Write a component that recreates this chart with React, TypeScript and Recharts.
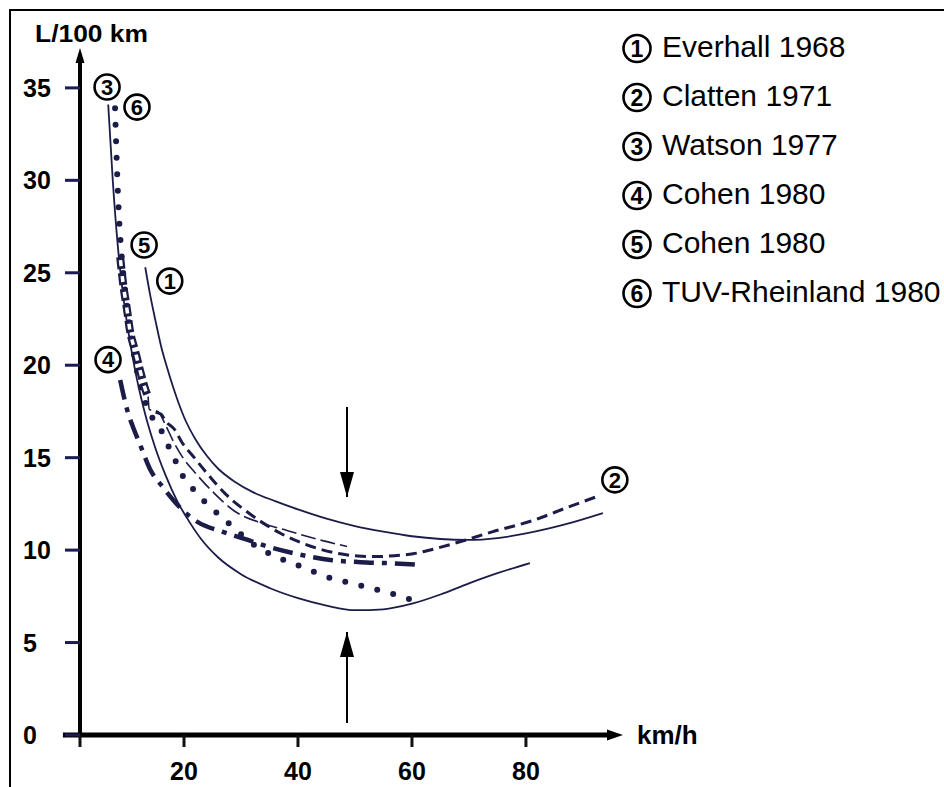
import React from 'react';
import { LineChart, Line, XAxis, YAxis, ReferenceDot, ReferenceLine } from 'recharts';

const FONT = '"Liberation Sans", Arial, Helvetica, sans-serif';
const INK = '#1c1c48';

// ---- data (km/h, L/100 km) ----
const EVERHALL = [
  [13.2, 25.3], [14, 23.9], [15, 22.4], [16, 21.0], [17, 19.9], [18, 18.9], [19, 18.0], [20, 17.2],
  [22, 16.0], [24, 15.1], [26, 14.4], [28.9, 13.7], [32, 13.15], [36, 12.65], [40, 12.2], [45, 11.7],
  [50, 11.3], [55, 11.0], [60, 10.75], [65, 10.6], [70, 10.55], [75, 10.65], [80, 10.9], [87, 11.4],
  [93.5, 12.0],
];
const CLATTEN = [
  [15.0, 17.45], [16.0, 17.35], [16.7, 17.0], [18.4, 16.5], [19.6, 15.85], [21.8, 15.0], [24.6, 13.95],
  [27.4, 13.0], [30.5, 12.2], [33.7, 11.5], [37, 10.9], [39.8, 10.5], [43.9, 10.05], [47.4, 9.8],
  [50.5, 9.68], [53.5, 9.65], [57, 9.7], [60.2, 9.8], [63.7, 10.05], [68.4, 10.45], [74.2, 11.0],
  [81.2, 11.6], [87.2, 12.3], [92.5, 12.9],
];
const WATSON = [
  [6.7, 34.1], [7.5, 30.0], [8.4, 26.4], [9.4, 23.6], [10.5, 21.3], [11.5, 19.6], [12.5, 18.2],
  [13.5, 17.0], [15, 15.5], [16.7, 14.1], [18.9, 12.6], [21, 11.5], [23, 10.6], [26, 9.6], [30, 8.7],
  [35, 7.95], [40, 7.4], [45, 7.0], [50, 6.75], [55, 6.8], [60, 7.1], [65, 7.6], [70, 8.2],
  [75, 8.75], [80.7, 9.3],
];
const COHEN4 = [
  [8.8, 19.2], [10.2, 17.4], [11.0, 16.7], [12.3, 15.7], [14.0, 14.4], [16.3, 13.4], [19.3, 12.3],
  [22.5, 11.5], [26.7, 11.0], [31.2, 10.55], [34.6, 10.2], [40.4, 9.75], [46, 9.45], [51, 9.35],
  [55.3, 9.3], [61.8, 9.2],
];
const COHEN5_TOP = [
  [8.8, 25.85], [9.3, 24.45], [10.0, 23.0], [10.5, 21.9], [11.4, 20.8], [12.3, 19.7], [13.2, 18.7],
  [13.7, 18.3],
];
const COHEN5_TAIL = [
  [13.7, 18.3], [13.9, 17.6], [15.4, 17.5], [16.7, 16.8], [18.1, 15.9], [19.8, 15.0], [21.9, 14.2],
  [24.9, 13.2], [28.9, 12.1], [33.7, 11.45], [38.2, 11.05], [40.4, 10.85], [44.5, 10.5], [48.6, 10.2],
];
const TUV = [
  [7.9, 33.9], [8.2, 31.0], [8.6, 28.0], [9.1, 25.8], [10.0, 23.2], [11.2, 20.6], [12.6, 18.6],
  [14.0, 17.4], [15.8, 16.6], [17.0, 15.8], [18.4, 14.9], [19.8, 14.0], [21.6, 13.3], [24.0, 12.5],
  [26.0, 11.95], [28.4, 11.3], [32, 10.35], [36.5, 9.6], [39.8, 9.2], [43.0, 8.8], [46.1, 8.45],
  [49.5, 8.2], [52.6, 7.95], [55.8, 7.7], [59.5, 7.35],
];
const ARROW_DOWN = [[48.6, 17.74], [48.6, 12.87]];
const ARROW_UP = [[48.6, 0.65], [48.6, 5.57]];

const CURVE_LABELS: [string, number, number][] = [
  ['3', 6.5, 35.05], ['6', 11.75, 33.96], ['5', 13.0, 26.5], ['1', 17.5, 24.55], ['4', 6.67, 20.3], ['2', 95.6, 13.8],
];
const LEGEND: [string, string][] = [
  ['1', 'Everhall 1968'], ['2', 'Clatten 1971'], ['3', 'Watson 1977'],
  ['4', 'Cohen 1980'], ['5', 'Cohen 1980'], ['6', 'TUV-Rheinland 1980'],
];

const X_TICKS = [1.75, 20, 40, 60, 80];
const Y_TICKS = [0, 5, 10, 15, 20, 25, 30, 35];
const X_DOMAIN: [number, number] = [1.75, 95.1];
const Y_DOMAIN: [number, number] = [0, 36.4];

const toPts = (a: number[][]) => a.map(([x, y]) => ({ x, y }));

const XTick = (p: any) => {
  if (p.payload.value === X_TICKS[0]) return <g />;
  return (
    <text x={p.x} y={p.y} dy={33} textAnchor="middle" fontSize={25} fontWeight="bold" fontFamily={FONT} fill="#000">
      {p.payload.value}
    </text>
  );
};
const YTick = (p: any) => (
  <text x={p.x - 30} y={p.y} dy={9} textAnchor="start" fontSize={25} fontWeight="bold" fontFamily={FONT} fill="#000">
    {p.payload.value}
  </text>
);

const circled = (n: string) => (p: any) => (
  <g>
    <circle cx={p.cx} cy={p.cy} r={12.5} fill="none" stroke="#000" strokeWidth={2.6} />
    <text x={p.cx} y={p.cy + 7.8} textAnchor="middle" fontSize={22} fontWeight="bold" fontFamily={FONT} fill="#000">{n}</text>
  </g>
);

const arrowHead = (dir: number) => (p: any) => {
  if (p.index !== 1) return <g key={`a${p.index}`} />;
  const { cx, cy } = p;
  const base = cy - dir * 25;
  return <polygon key={`h${p.index}`} points={`${cx - 7},${base} ${cx + 7},${base} ${cx},${cy}`} fill="#000" />;
};

export default function App() {
  return (
    <div style={{ position: 'absolute', left: 0, top: 0, width: 944, height: 787, background: '#fff', fontFamily: FONT }}>
      <div style={{ position: 'absolute', left: 9, top: 9, width: 935, height: 778, borderTop: '2px solid #000', borderLeft: '2px solid #000', boxSizing: 'border-box' }} />
      <div style={{ position: 'absolute', left: 0, top: 0 }}>
        <LineChart width={944} height={787} margin={{ top: 62, right: 332, bottom: 0, left: 20 }}>
          <XAxis type="number" dataKey="x" domain={X_DOMAIN} ticks={X_TICKS} interval={0} height={52}
            tickSize={12} tickMargin={0} axisLine={{ stroke: '#000', strokeWidth: 5 }}
            tickLine={{ stroke: '#111', strokeWidth: 3 }} tick={(p: any) => <XTick {...p} />} />
          <YAxis type="number" dataKey="y" domain={Y_DOMAIN} ticks={Y_TICKS} interval={0} width={60}
            tickSize={15} tickMargin={12} axisLine={{ stroke: '#000', strokeWidth: 4 }}
            tickLine={{ stroke: '#1b1b55', strokeWidth: 3 }} tick={(p: any) => <YTick {...p} />} />
          <ReferenceLine segment={[{ x: -1.25, y: 0 }, { x: 1.75, y: 0 }]} ifOverflow="visible" stroke="#000" strokeWidth={5} />

          <Line data={toPts(EVERHALL)} dataKey="y" type="monotone" stroke={INK} strokeWidth={1.8} dot={false} isAnimationActive={false} />
          <Line data={toPts(WATSON)} dataKey="y" type="monotone" stroke={INK} strokeWidth={1.8} dot={false} isAnimationActive={false} />
          <Line data={toPts(COHEN5_TAIL)} dataKey="y" type="monotone" stroke={INK} strokeWidth={1.6} strokeDasharray="15 5" dot={false} isAnimationActive={false} />
          <Line data={toPts(CLATTEN)} dataKey="y" type="monotone" stroke={INK} strokeWidth={3} strokeDasharray="11 6" dot={false} isAnimationActive={false} />
          <Line data={toPts(COHEN4)} dataKey="y" type="monotone" stroke={INK} strokeWidth={4.5} strokeDasharray="20 8 5 8" dot={false} isAnimationActive={false} />
          <Line data={toPts(TUV)} dataKey="y" type="monotone" stroke={INK} strokeWidth={6} strokeDasharray="0 16.5" strokeLinecap="round" dot={false} isAnimationActive={false} />
          <Line data={toPts(COHEN5_TOP)} dataKey="y" type="monotone" stroke={INK} strokeWidth={8} strokeDasharray="12 4" dot={false} isAnimationActive={false} />
          <Line data={toPts(COHEN5_TOP)} dataKey="y" type="monotone" stroke="#fff" strokeWidth={3.5} strokeDasharray="6 10" strokeDashoffset={-3} dot={false} isAnimationActive={false} />

          <Line data={toPts(ARROW_DOWN)} dataKey="y" type="linear" stroke="#000" strokeWidth={2} dot={arrowHead(1)} isAnimationActive={false} />
          <Line data={toPts(ARROW_UP)} dataKey="y" type="linear" stroke="#000" strokeWidth={2} dot={arrowHead(-1)} isAnimationActive={false} />

          <ReferenceDot x={X_DOMAIN[0]} y={Y_DOMAIN[1]} ifOverflow="visible"
            shape={(p: any) => <polygon points={`${p.cx - 4.5},${p.cy + 1} ${p.cx + 4.5},${p.cy + 1} ${p.cx},${p.cy - 14}`} fill="#000" />} />
          <ReferenceDot x={X_DOMAIN[1]} y={0} ifOverflow="visible"
            shape={(p: any) => <polygon points={`${p.cx - 5},${p.cy - 5.5} ${p.cx + 11},${p.cy} ${p.cx - 5},${p.cy + 5.5}`} fill="#000" />} />

          {CURVE_LABELS.map(([n, x, y]) => (
            <ReferenceDot key={n} x={x} y={y} ifOverflow="visible" shape={circled(n)} />
          ))}
        </LineChart>
      </div>
      <svg width={944} height={787} style={{ position: 'absolute', left: 0, top: 0, pointerEvents: 'none' }}>
        <text x={35} y={42} fontSize={23} fontWeight="bold" fontFamily={FONT} textLength={113} lengthAdjust="spacingAndGlyphs">L/100 km</text>
        <text x={637} y={744} fontSize={26} fontWeight="bold" fontFamily={FONT}>km/h</text>
        {LEGEND.map(([n, label], i) => {
          const base = 57 + i * 49;
          const cy = base - 8.5;
          return (
            <g key={i}>
              <circle cx={637} cy={cy} r={13.5} fill="none" stroke="#000" strokeWidth={2.6} />
              <text x={637} y={cy + 8.2} textAnchor="middle" fontSize={23} fontWeight="bold" fontFamily={FONT}>{n}</text>
              <text x={662} y={base} fontSize={30} fontFamily={FONT}>{label}</text>
            </g>
          );
        })}
      </svg>
    </div>
  );
}
